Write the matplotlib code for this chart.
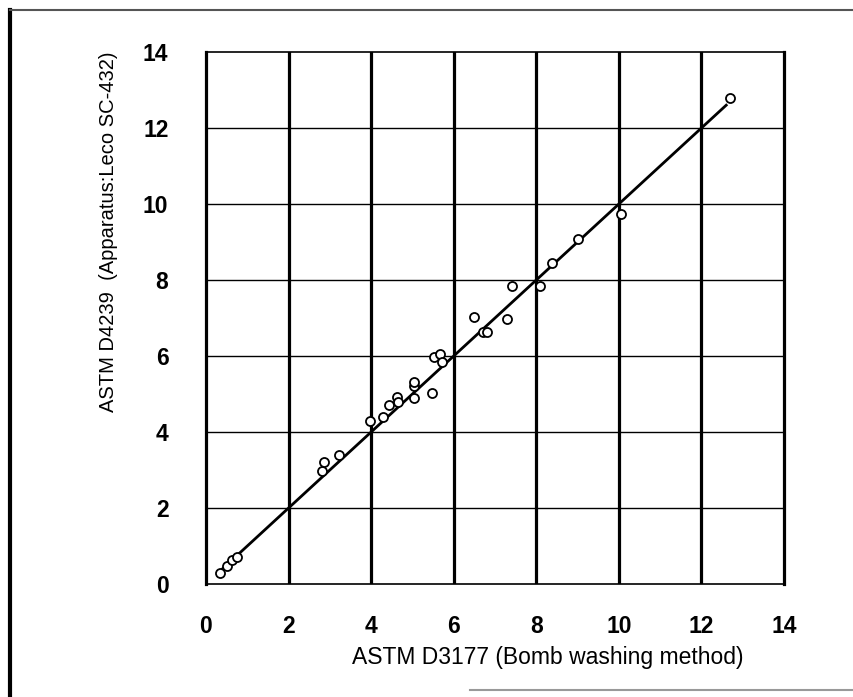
import matplotlib.pyplot as plt
from matplotlib.lines import Line2D

# Values
x_d3177 = [0.35, 0.50, 0.62, 0.75,
           2.81, 2.86, 3.23,
           3.98, 4.29, 4.43, 4.63, 4.65,
           5.03, 5.03, 5.03, 5.48, 5.52, 5.66, 5.72,
           6.49, 6.72, 6.80, 7.28, 7.40, 8.09, 8.37, 9.01, 10.05, 12.70]
y_d4239 = [0.30, 0.48, 0.62, 0.70,
           2.97, 3.22, 3.39,
           4.30, 4.40, 4.71, 4.93, 4.78,
           4.89, 5.22, 5.32, 5.02, 5.98, 6.05, 5.85,
           7.02, 6.64, 6.64, 6.97, 7.84, 7.84, 8.44, 9.08, 9.75, 12.80]

# regression line end points
fit_x = [0.40, 12.60]
fit_y = [0.40, 12.60]

ticks = [0, 2, 4, 6, 8, 10, 12, 14]

fig = plt.figure(figsize=(8.54, 6.97), dpi=100)
ax = fig.add_axes([206 / 854, 1 - 584 / 697, 578 / 854, 532 / 697])

ax.plot(fit_x, fit_y, color='black', lw=2.0, zorder=3)
ax.plot(x_d3177, y_d4239, 'o', mfc='white', mec='black', ms=6.5, mew=1.3, zorder=4)

ax.set_xlim(0, 14)
ax.set_ylim(0, 14)
ax.set_xticks(ticks)
ax.set_yticks(ticks)

# thick vertical grid, thinner horizontal grid
for t in ticks[1:-1]:
    ax.axvline(t, color='black', lw=2.3, zorder=1)
    ax.axhline(t, color='black', lw=1.0, zorder=1)

for side in ['left', 'right']:
    ax.spines[side].set_linewidth(2.3)
for side in ['top', 'bottom']:
    ax.spines[side].set_linewidth(1.2)

ax.tick_params(length=0)
ax.tick_params(axis='x', pad=22)
ax.tick_params(axis='y', pad=27)
for lab in ax.get_xticklabels() + ax.get_yticklabels():
    lab.set_family('Liberation Sans')
    lab.set_fontweight('bold')
    lab.set_fontsize(16.5)

ax.set_xlabel('ASTM D3177 (Bomb washing method)', family='Liberation Sans', fontsize=16.5)
ax.xaxis.set_label_coords(0.592, -0.117)

ax.set_ylabel('ASTM D4239  (Apparatus:Leco SC-432)', family='Liberation Sans', fontsize=14.5)
ax.yaxis.set_label_coords(-0.152, 0.662)

# scanned page frame
fig.add_artist(Line2D([10 / 854, 10 / 854], [0, 1 - 10 / 697], color='black', lw=3,
                      transform=fig.transFigure))
fig.add_artist(Line2D([10 / 854, 1], [1 - 10 / 697, 1 - 10 / 697], color='#555555', lw=1.5,
                      transform=fig.transFigure))
fig.add_artist(Line2D([470 / 854, 1], [1 - 690 / 697, 1 - 690 / 697], color='#999999', lw=1.5,
                      transform=fig.transFigure))

fig.savefig('out.png', dpi=100)
